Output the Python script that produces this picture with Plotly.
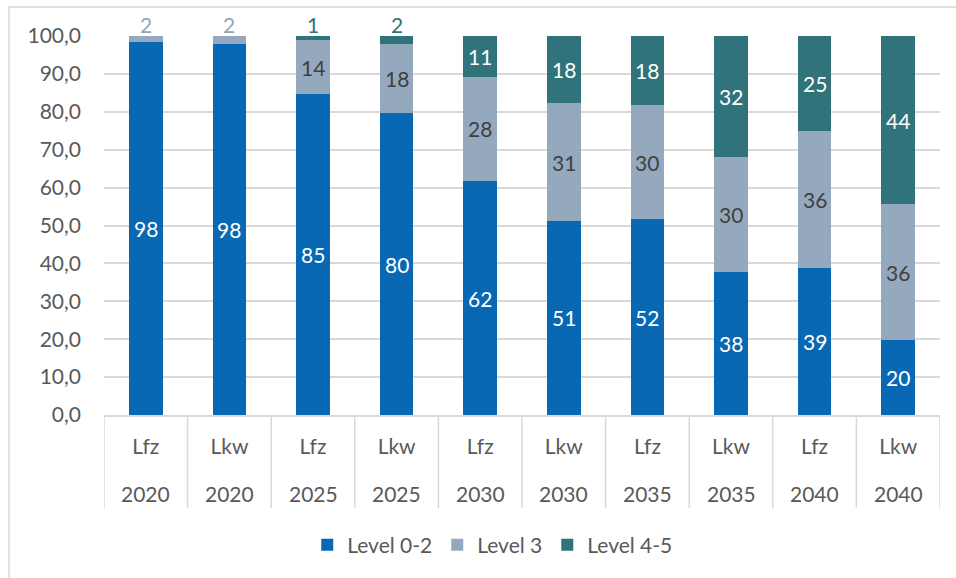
import plotly.graph_objects as go

types = ["Lfz", "Lkw", "Lfz", "Lkw", "Lfz", "Lkw", "Lfz", "Lkw", "Lfz", "Lkw"]
years = ["2020", "2020", "2025", "2025", "2030", "2030", "2035", "2035", "2040", "2040"]
level_02 = [98.3, 97.9, 84.6, 79.6, 61.7, 51.2, 51.7, 37.7, 38.8, 19.7]
level_3 = [1.7, 2.1, 14.3, 18.4, 27.6, 31.1, 30.1, 30.3, 36.2, 35.9]
level_45 = [0.0, 0.0, 1.1, 2.0, 10.7, 17.7, 18.2, 32.0, 25.0, 44.4]
series_names = ["Level 0-2", "Level 3", "Level 4-5"]
y_ticks = [0, 10, 20, 30, 40, 50, 60, 70, 80, 90, 100]

colors = ["#0868B4", "#94A9BE", "#31737A"]
label_colors = ["#FFFFFF", "#404040", "#FFFFFF"]
small_label_colors = ["#0868B4", "#8FA6BE", "#31737A"]
FONT = "Lato"
FS = 21
TXT = "#595959"
GRID = "#D9D9D9"

xs = list(range(len(types)))
all_series = [level_02, level_3, level_45]

fig = go.Figure()
for name, vals, col in zip(series_names, all_series, colors):
    fig.add_trace(go.Bar(
        x=xs, y=vals, name=name, marker=dict(color=col, line=dict(width=0)),
        width=0.4, hoverinfo="skip",
    ))

# value labels: centred in the segment, small segments above the bar
annotations = []
for i in xs:
    base = 0.0
    tot = sum(s[i] for s in all_series)
    for k, s in enumerate(all_series):
        v = s[i]
        if v >= 5:
            annotations.append(dict(x=i, y=base + v / 2, xref="x", yref="y", text=f"{v:.0f}",
                                    showarrow=False, xanchor="center", yanchor="middle",
                                    font=dict(family=FONT, size=FS, color=label_colors[k])))
        elif v >= 0.5:
            annotations.append(dict(x=i, y=tot, xref="x", yref="y", text=f"{v:.0f}",
                                    showarrow=False, xanchor="center", yanchor="middle",
                                    yshift=12,
                                    font=dict(family=FONT, size=FS, color=small_label_colors[k])))
        base += v

# year row of the category axis
for i, yr in zip(xs, years):
    annotations.append(dict(x=i, y=-0.208, xref="x", yref="paper", text=yr, showarrow=False,
                            xanchor="center", yanchor="middle",
                            font=dict(family=FONT, size=FS, color=TXT)))

shapes = []
for i in range(len(types) + 1):
    shapes.append(dict(type="line", xref="x", yref="paper", x0=i - 0.5, x1=i - 0.5,
                       y0=0, y1=-0.245, line=dict(color=GRID, width=1.5)))
# outer chart frame
shapes.append(dict(type="rect", xref="paper", yref="paper", x0=-0.1136, x1=1.2,
                   y0=-0.6, y1=1.0765, line=dict(color=GRID, width=1.5), layer="below"))

fig.update_layout(
    barmode="stack",
    width=956, height=578,
    margin=dict(l=104, r=16, t=36, b=163),
    paper_bgcolor="white", plot_bgcolor="white",
    separators=",.",
    font=dict(family=FONT, size=FS, color=TXT),
    showlegend=True,
    legend=dict(orientation="h", x=0.465, xanchor="center", y=-0.343, yanchor="middle",
                font=dict(family=FONT, size=FS, color=TXT), itemwidth=30,
                traceorder="normal"),
    shapes=shapes,
    annotations=annotations,
    xaxis=dict(tickmode="array", tickvals=xs, ticktext=types, range=[-0.5, len(types) - 0.5],
               showgrid=False, showline=True, linecolor=GRID, linewidth=1.5,
               ticks="", ticklabelstandoff=12, tickfont=dict(family=FONT, size=FS, color=TXT),
               zeroline=False),
    yaxis=dict(range=[0, 100], tickvals=y_ticks, tickformat=".1f", showgrid=True,
               gridcolor=GRID, gridwidth=1.5, showline=False, zeroline=False,
               ticks="", ticklabelstandoff=22, tickfont=dict(family=FONT, size=FS, color=TXT)),
)

fig.write_html("out.html", config={"displayModeBar": False},
               post_script="document.body.style.margin='0';")
